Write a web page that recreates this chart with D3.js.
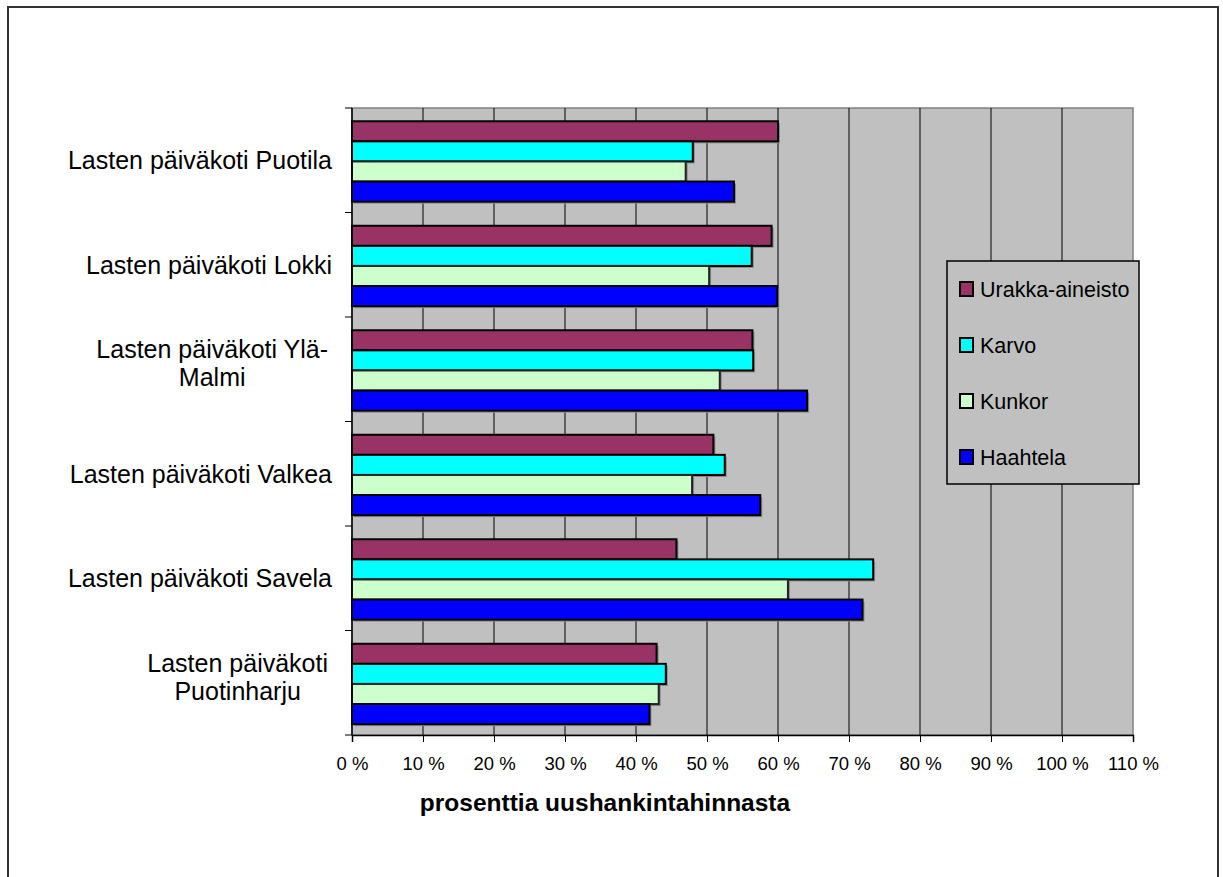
<!DOCTYPE html>
<html>
<head>
<meta charset="utf-8">
<script src="https://cdn.jsdelivr.net/npm/d3@7"></script>
<style>
  body { margin: 0; background: #fff; }
  text { font-family: Arial, "Liberation Sans", sans-serif; }
</style>
</head>
<body>
<div id="chart"></div>
<script>
// categories top to bottom, "\n" marks the label line breaks
var categories = [
	"Lasten päiväkoti Puotila",
	"Lasten päiväkoti Lokki",
	"Lasten päiväkoti Ylä-\nMalmi",
	"Lasten päiväkoti Valkea",
	"Lasten päiväkoti Savela",
	"Lasten päiväkoti\nPuotinharju"
];
var seriesNames = ["Urakka-aineisto", "Karvo", "Kunkor", "Haahtela"];
var seriesColors = ["#993366", "#00FFFF", "#CCFFCC", "#0000FF"];

// percent of new purchase price, same order as categories
var urakka   = [60.0, 59.1, 56.4, 50.9, 45.7, 42.9];
var karvo    = [48.0, 56.3, 56.5, 52.5, 73.4, 44.2];
var kunkor   = [47.0, 50.3, 51.8, 47.9, 61.4, 43.2];
var haahtela = [53.8, 59.9, 64.1, 57.5, 71.9, 41.9];
var seriesValues = [urakka, karvo, kunkor, haahtela];

var xTicks = [0, 10, 20, 30, 40, 50, 60, 70, 80, 90, 100, 110];
var xTitle = "prosenttia uushankintahinnasta";

var W = 1223, H = 877;
var plot = {left: 352, top: 108, right: 1133, bottom: 735};

var svg = d3.select("#chart").append("svg")
	.attr("width", W)
	.attr("height", H);

// outer chart frame
svg.append("rect")
	.attr("x", 8).attr("y", 7)
	.attr("width", 1210).attr("height", 900)
	.attr("fill", "#fff")
	.attr("stroke", "#333")
	.attr("stroke-width", 2);

var x = d3.scaleLinear().domain([0, 110]).range([plot.left, plot.right]);
var y = d3.scaleBand().domain(d3.range(categories.length)).range([plot.top, plot.bottom]);
var ySub = d3.scaleBand().domain(d3.range(seriesNames.length))
	.range([0, y.bandwidth()]).paddingOuter(0.6).paddingInner(0).align(0.55);

// plot background
svg.append("rect")
	.attr("x", plot.left).attr("y", plot.top)
	.attr("width", plot.right - plot.left)
	.attr("height", plot.bottom - plot.top)
	.attr("fill", "#C0C0C0")
	.attr("stroke", "#808080")
	.attr("stroke-width", 1.5);

// vertical gridlines
svg.append("g")
	.selectAll("line")
	.data(xTicks.slice(1, -1))
	.enter().append("line")
	.attr("x1", d => x(d)).attr("x2", d => x(d))
	.attr("y1", plot.top).attr("y2", plot.bottom)
	.attr("stroke", "#000")
	.attr("stroke-width", 1);

// bars
var rows = [];
categories.forEach(function(c, ci) {
	seriesValues.forEach(function(vals, si) {
		rows.push({ci: ci, si: si, v: vals[ci]});
	});
});

var barG = svg.append("g");
barG.selectAll("rect.shadow")
	.data(rows)
	.enter().append("rect")
	.attr("class", "shadow")
	.attr("x", x(0) + 2)
	.attr("y", d => y(d.ci) + ySub(d.si) + 2)
	.attr("width", d => x(d.v) - x(0))
	.attr("height", ySub.bandwidth())
	.attr("fill", "#8a8a8a");

barG.selectAll("rect.bar")
	.data(rows)
	.enter().append("rect")
	.attr("class", "bar")
	.attr("x", x(0))
	.attr("y", d => y(d.ci) + ySub(d.si))
	.attr("width", d => x(d.v) - x(0))
	.attr("height", ySub.bandwidth())
	.attr("fill", d => seriesColors[d.si])
	.attr("stroke", d => d.si == 2 ? "#222" : "#000")
	.attr("stroke-width", 2);

// x axis
var xAxis = d3.axisBottom(x)
	.tickValues(xTicks)
	.tickSize(7)
	.tickFormat(d => d + " %");
var gx = svg.append("g")
	.attr("transform", "translate(0," + plot.bottom + ")")
	.call(xAxis);
gx.select(".domain").attr("stroke", "#000").attr("stroke-width", 1.5);
gx.selectAll(".tick line").attr("stroke", "#000");
gx.selectAll(".tick text")
	.attr("y", 22)
	.attr("fill", "#000")
	.style("font-size", "18.5px")
	.style("font-family", "Arial, 'Liberation Sans', sans-serif");

// y axis (ticks on band boundaries)
var bounds = d3.range(categories.length + 1).map(i => plot.top + i * y.step());
svg.append("line")
	.attr("x1", plot.left).attr("x2", plot.left)
	.attr("y1", plot.top).attr("y2", plot.bottom)
	.attr("stroke", "#000").attr("stroke-width", 1.5);
svg.append("g")
	.selectAll("line")
	.data(bounds)
	.enter().append("line")
	.attr("x1", plot.left - 7).attr("x2", plot.left)
	.attr("y1", d => d).attr("y2", d => d)
	.attr("stroke", "#000");

// category labels
var labelRight = 332;
var catG = svg.append("g")
	.style("font-size", "25px")
	.attr("fill", "#000");
categories.forEach(function(c, ci) {
	var lines = c.split("\n");
	var cy = y(ci) + y.bandwidth() / 2;
	if (lines.length == 1) {
		catG.append("text")
			.attr("x", labelRight).attr("y", cy)
			.attr("text-anchor", "end")
			.attr("dy", "0.35em")
			.text(c);
	} else {
		// measure widest line, center lines in a right aligned block
		var wMax = 0;
		lines.forEach(function(l) {
			var probe = catG.append("text").text(l);
			wMax = Math.max(wMax, probe.node().getComputedTextLength());
			probe.remove();
		});
		var cx = labelRight - wMax / 2 - 4;
		lines.forEach(function(l, li) {
			catG.append("text")
				.attr("x", cx)
				.attr("y", cy + (li - (lines.length - 1) / 2) * 28 - 6)
				.attr("dy", "0.35em")
				.attr("text-anchor", "middle")
				.text(l);
		});
	}
});

// axis title
svg.append("text")
	.attr("x", 605)
	.attr("y", 802)
	.attr("text-anchor", "middle")
	.attr("dy", "0.35em")
	.style("font-size", "24.5px")
	.style("font-weight", "bold")
	.text(xTitle);

// legend
var lg = svg.append("g");
lg.append("rect")
	.attr("x", 947).attr("y", 261)
	.attr("width", 192).attr("height", 223)
	.attr("fill", "#C0C0C0")
	.attr("stroke", "#000")
	.attr("stroke-width", 1.5);
var legendY = d3.scalePoint().domain(d3.range(seriesNames.length)).range([289, 457]);
seriesNames.forEach(function(n, i) {
	lg.append("rect")
		.attr("x", 960).attr("y", legendY(i) - 7)
		.attr("width", 13).attr("height", 14)
		.attr("fill", seriesColors[i])
		.attr("stroke", "#000")
		.attr("stroke-width", 2);
	lg.append("text")
		.attr("x", 980).attr("y", legendY(i))
		.attr("dy", "0.35em")
		.style("font-size", "21.5px")
		.text(n);
});
</script>
</body>
</html>
